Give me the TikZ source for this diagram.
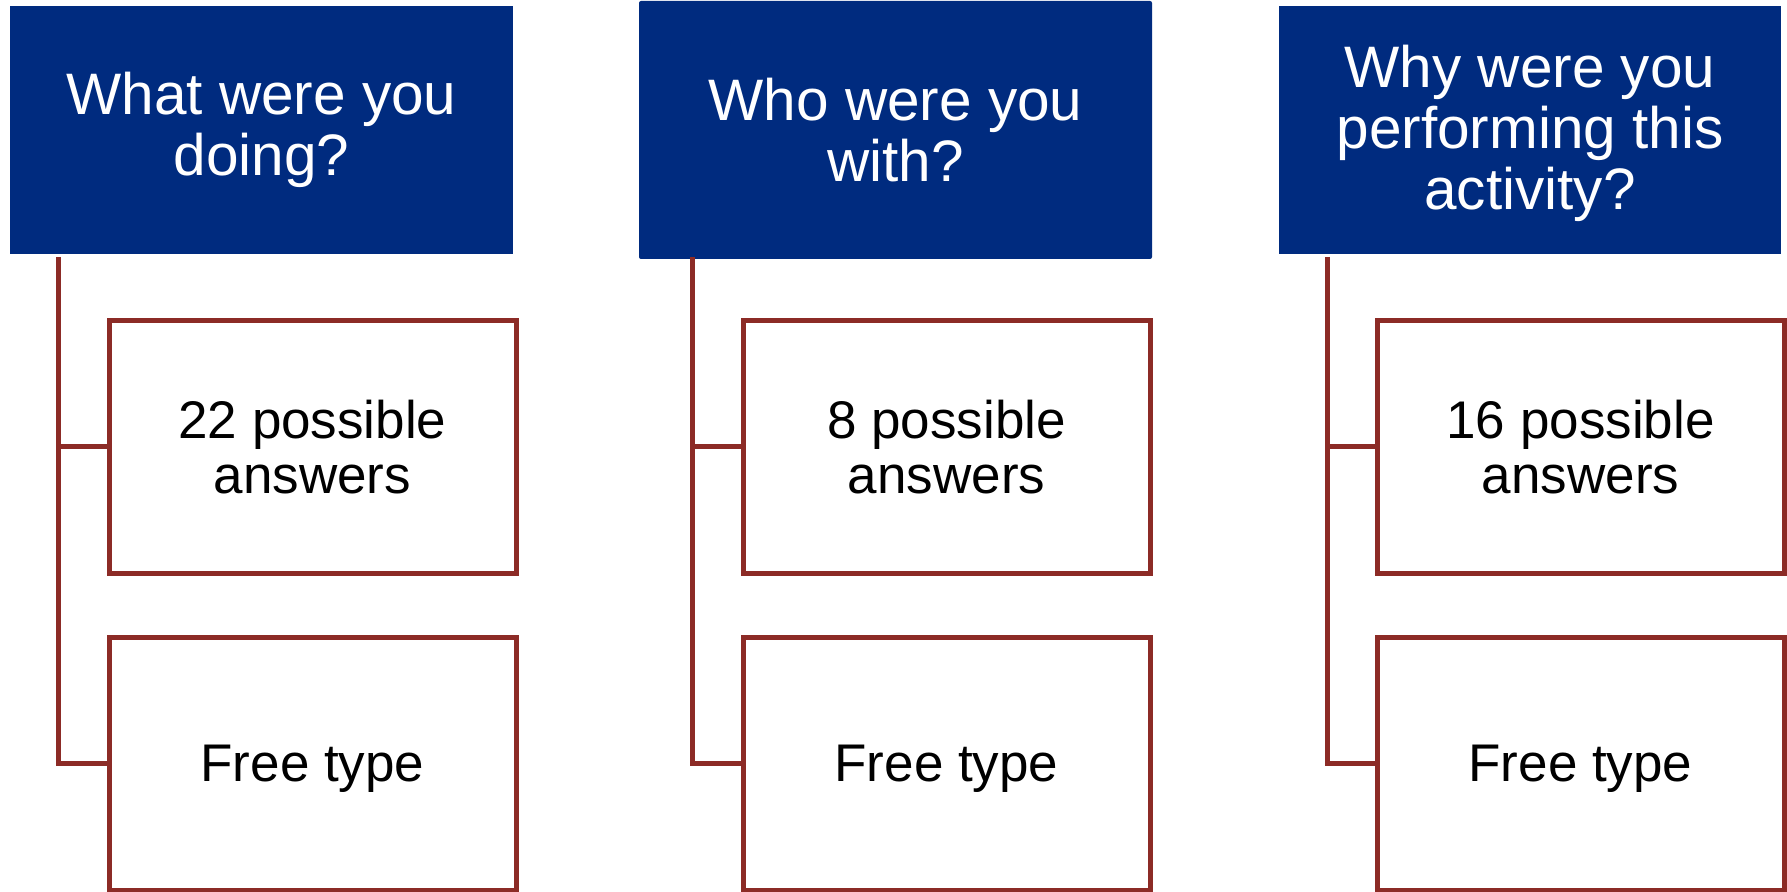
\documentclass[tikz,border=0pt]{standalone}
\usepackage{fontspec}
\setmainfont{Liberation Sans}
\definecolor{qblue}{RGB}{0,43,127}
\definecolor{linkred}{RGB}{140,43,38}
\begin{document}
\begin{tikzpicture}[x=0.5pt,y=-0.5pt,
  question/.style={fill=qblue,text=white,inner sep=0pt,align=center,
    font=\fontsize{29.25pt}{30.5pt}\selectfont},
  answer/.style={draw=linkred,line width=2.5pt,fill=white,inner sep=0pt,
    minimum width=203.5pt,minimum height=126.5pt,align=center,
    font=\fontsize{26.5pt}{27.5pt}\selectfont},
  freebox/.style={answer,text depth=0pt},
  link/.style={draw=linkred,line width=2.5pt}]
\useasboundingbox (0,0) rectangle (1787,892);

% question headers
\node[question,minimum width=251.5pt,minimum height=124pt] (q1) at (261.5,130)
  {What were you\\doing?};
\node[question,minimum width=256.5pt,minimum height=129pt,rounded corners=1pt] (q2) at (895.5,130)
  {Who were you\\with?};
\node[question,minimum width=251pt,minimum height=124pt,text depth=2.7pt] (q3) at (1530,130)
  {Why were you\\performing this\\activity?};

% answer boxes
\node[answer] (a1) at (312.5,447) {22 possible\\answers};
\node[freebox] (f1) at (312.5,763.5) {Free type};
\node[answer] (a2) at (946.5,447) {8 possible\\answers};
\node[freebox] (f2) at (946.5,763.5) {Free type};
\node[answer] (a3) at (1580.5,447) {16 possible\\answers};
\node[freebox] (f3) at (1580.5,763.5) {Free type};

% tree connectors
\coordinate (s1) at (58,257);
\coordinate (s2) at (692,257);
\coordinate (s3) at (1327,257);
\foreach \i in {1,2,3}{
  \draw[link] (s\i) |- (f\i.west);
  \draw[link] (s\i |- a\i.west) -- (a\i.west);
}
\end{tikzpicture}
\end{document}
